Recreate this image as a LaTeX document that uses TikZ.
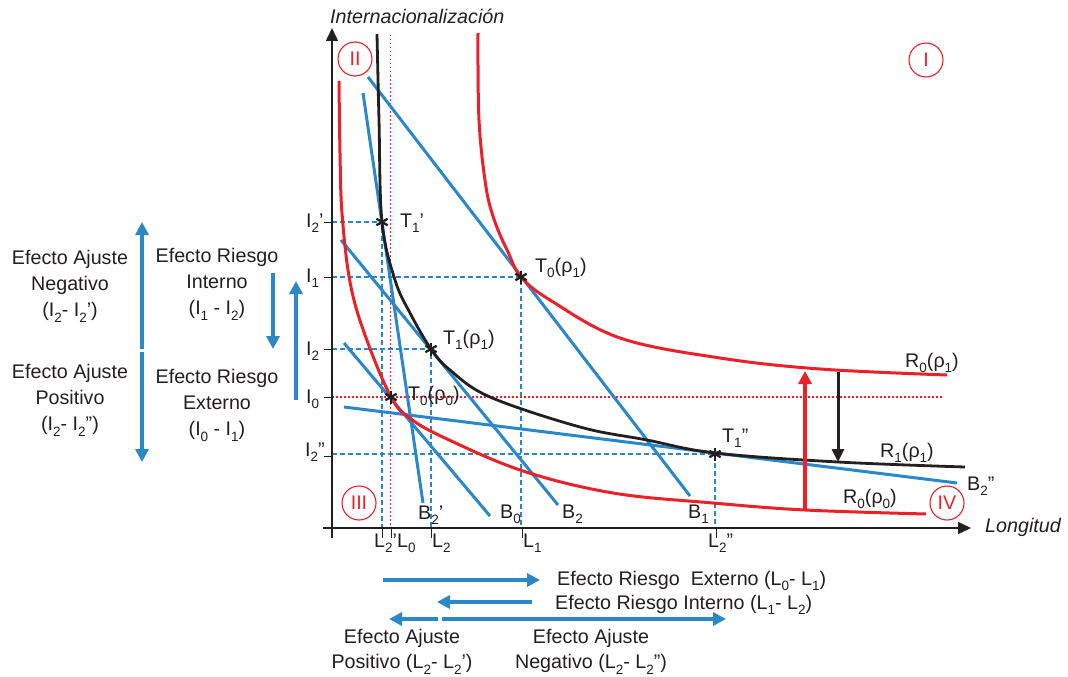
\documentclass[tikz,border=0pt]{standalone}
\usepackage{fontspec}
\setmainfont{Liberation Sans}
\usetikzlibrary{arrows.meta,calc}
\definecolor{cblue}{RGB}{42,135,200}
\definecolor{cred}{RGB}{236,32,40}
\definecolor{ctext}{RGB}{35,31,32}
\newcommand{\sbs}[1]{\raisebox{-0.3em}{\fontsize{13.5}{13.5}\selectfont #1}}
\begin{document}
\begin{tikzpicture}[x=1pt,y=-1pt,
  every node/.style={font=\fontsize{19.7}{26}\selectfont, inner sep=0pt, text=ctext},
  bline/.style={cblue, line width=3pt},
  rcurve/.style={cred, line width=3pt},
  kcurve/.style={ctext, line width=2.8pt},
  guide/.style={cblue, line width=1.1pt, dash pattern=on 5pt off 3pt},
  rdot/.style={cred, line width=1.5pt, dash pattern=on 1.5pt off 2.5pt},
  barrow/.style={cblue, line width=4pt, -{Triangle[length=13pt,width=13pt]}},
  axisline/.style={ctext, line width=1.5pt, -{Triangle[length=13pt,width=12pt]}},
  tickline/.style={ctext, line width=1pt},
  lbl/.style={anchor=base west},
  roman/.style={draw=cred, circle, minimum size=34pt, text=cred, line width=1.1pt},
  stardraw/.style={ctext, line width=2.3pt}]
\useasboundingbox (0,0) rectangle (1068,677);

% key coordinates
\coordinate (O) at (332,528);
\coordinate (ytop) at (332,28);
\coordinate (ybot) at (332,538);
\coordinate (xleft) at (323,528);
\coordinate (xright) at (971,528);
\coordinate (T1p) at (382,222);
\coordinate (T0r1) at (521,277);
\coordinate (T1r1) at (431,349);
\coordinate (T0r0) at (391,397);
\coordinate (T1pp) at (715,454);
\coordinate (L0top) at (390.5,35);
\coordinate (L0bot) at (390.5,528);
\coordinate (I0end) at (943,397);

% guides
\draw[guide] (T1p -| O) -- (T1p) -- (T1p |- O);
\draw[guide] (T0r1 -| O) -- (T0r1) -- (T0r1 |- O);
\draw[guide] (T1r1 -| O) -- (T1r1) -- (T1r1 |- O);
\draw[guide] (T1pp -| O) -- (T1pp) -- (T1pp |- O);
\draw[rdot] (L0top) -- (L0bot);
\draw[rdot] (T0r0 -| O) -- (I0end);

% axes
\draw[axisline] (ybot) -- (ytop);
\draw[axisline] (xleft) -- (xright);
\foreach \yy in {222,277,349,397,456} \draw[tickline] (324,\yy) -- (332,\yy);
\foreach \xx in {382,391,431,522,716} \draw[tickline] (\xx,528) -- (\xx,538);

% budget lines
\coordinate (B2pa) at (363,93);   \coordinate (B2pb) at (423,503);
\coordinate (B1a) at (368,77);    \coordinate (B1b) at (690,496);
\coordinate (B2a) at (341,240);   \coordinate (B2b) at (558,505);
\coordinate (B0a) at (344,343);   \coordinate (B0b) at (490,516);
\coordinate (B2ppa) at (344,407); \coordinate (B2ppb) at (957,483);
\draw[bline] (B2pa) -- (B2pb);
\draw[bline] (B1a) -- (B1b);
\draw[bline] (B2a) -- (B2b);
\draw[bline] (B0a) -- (B0b);
\draw[bline] (B2ppa) -- (B2ppb);

% curves
\draw[rcurve] plot[smooth, tension=0.6] coordinates {(478,33) (479,120) (486,187) (495,222) (508,252) (521,277) (550,300) (620,338) (720,358) (820,369) (947,375)};
\draw[kcurve] plot[smooth, tension=0.6] coordinates {(377,34) (379,120) (382,222) (395,280) (410,313) (431,349) (450,370) (490,397) (580,427) (647,440) (715,453) (838,462) (965,467)};
\draw[rcurve] plot[smooth, tension=0.6] coordinates {(339,81) (340,153) (342,213) (350,282) (365,335) (391,397) (411,419) (447,439) (523,471) (613,493) (713,503) (805,510) (926,514)};

% stars
\foreach \p in {T1p,T0r1,T1r1,T0r0,T1pp}
  \foreach \a in {90,30,150}
    \draw[stardraw] ($(\p)+(\a:6.5)$) -- ($(\p)+(\a+180:6.5)$);

% shift arrows
\coordinate (ra1) at (805,510); \coordinate (ra2) at (805,371);
\coordinate (ka1) at (838,372); \coordinate (ka2) at (838,462);
\draw[cred, line width=4pt, -{Triangle[length=13pt,width=13pt]}] (ra1) -- (ra2);
\draw[ctext, line width=3pt, -{Triangle[length=13pt,width=12pt]}] (ka1) -- (ka2);

% axis labels
\node[anchor=west, font=\fontsize{19.7}{26}\selectfont\itshape] (ylab) at (330,16) {Internacionalización};
\node[anchor=west, font=\fontsize{19.7}{26}\selectfont\itshape] (xlab) at (985,527) {Longitud};

% roman numerals
\node[roman] (rI) at (926,60) {I};
\node[roman] (rII) at (355,59) {II};
\node[roman] (rIII) at (359,503) {III};
\node[roman] (rIV) at (947,503) {IV};

% point labels
\node[lbl] (lT1p) at (400,227) {T\sbs{1}’};
\node[lbl] (lT0r1) at (535,272) {T\sbs{0}(ρ\sbs{1})};
\node[lbl] (lT1r1) at (443,344) {T\sbs{1}(ρ\sbs{1})};
\node[lbl] (lT0r0) at (408,400) {T\sbs{0}(ρ\sbs{0})};
\node[lbl] (lT1pp) at (722,442) {T\sbs{1}”};
\node[lbl] (lR0r1) at (905,367) {R\sbs{0}(ρ\sbs{1})};
\node[lbl] (lR1r1) at (880,457) {R\sbs{1}(ρ\sbs{1})};
\node[lbl] (lR0r0) at (843,503) {R\sbs{0}(ρ\sbs{0})};
\node[lbl] (lB2p) at (418,519) {B\sbs{2}’};
\node[lbl] (lB0) at (500,518) {B\sbs{0}};
\node[lbl] (lB2) at (562,518) {B\sbs{2}};
\node[lbl] (lB1) at (688,518) {B\sbs{1}};
\node[lbl] (lB2pp) at (967,490) {B\sbs{2}”};

% tick labels
\node[lbl] (tI2p) at (306,227) {I\sbs{2}’};
\node[lbl] (tI1) at (306,282) {I\sbs{1}};
\node[lbl] (tI2) at (306,355) {I\sbs{2}};
\node[lbl] (tI0) at (306,403) {I\sbs{0}};
\node[lbl] (tI2pp) at (305,456) {I\sbs{2}”};
\node[lbl] (tL2p) at (374,547) {L\sbs{2}’};
\node[lbl] (tL0) at (397,547) {L\sbs{0}};
\node[lbl] (tL2) at (432,547) {L\sbs{2}};
\node[lbl] (tL1) at (523,547) {L\sbs{1}};
\node[lbl] (tL2pp) at (708,547) {L\sbs{2}”};

% left effect texts and arrows
\node[align=center] (eAN) at (70,286) {Efecto Ajuste\\Negativo\\(I\sbs{2}- I\sbs{2}’)};
\node[align=center] (eAP) at (70,400) {Efecto Ajuste\\Positivo\\(I\sbs{2}- I\sbs{2}”)};
\node[align=center] (eRI) at (217,284) {Efecto Riesgo\\Interno\\(I\sbs{1} - I\sbs{2})};
\node[align=center] (eRE) at (217,405) {Efecto Riesgo\\Externo\\(I\sbs{0} - I\sbs{1})};
\coordinate (a1a) at (142,349); \coordinate (a1b) at (142,222);
\coordinate (a2a) at (142,352); \coordinate (a2b) at (142,462);
\coordinate (a3a) at (273,273); \coordinate (a3b) at (273,349);
\coordinate (a4a) at (296,400); \coordinate (a4b) at (296,281);
\draw[barrow] (a1a) -- (a1b);
\draw[barrow] (a2a) -- (a2b);
\draw[barrow] (a3a) -- (a3b);
\draw[barrow] (a4a) -- (a4b);

% bottom effect texts and arrows
\node[lbl] (eREb) at (557,585) {Efecto Riesgo~ Externo (L\sbs{0}- L\sbs{1})};
\node[lbl] (eRIb) at (555,609) {Efecto Riesgo Interno (L\sbs{1}- L\sbs{2})};
\node[align=center, font=\fontsize{19.7}{25}\selectfont] (eAPb) at (402,652) {Efecto Ajuste\\Positivo (L\sbs{2}- L\sbs{2}’)};
\node[align=center, font=\fontsize{19.7}{25}\selectfont] (eANb) at (591,652) {Efecto Ajuste\\Negativo (L\sbs{2}- L\sbs{2}”)};
\coordinate (b1a) at (383,580); \coordinate (b1b) at (540,580);
\coordinate (b2a) at (532,602); \coordinate (b2b) at (437,602);
\coordinate (b3a) at (438,619); \coordinate (b3b) at (389,619);
\coordinate (b4a) at (442,619); \coordinate (b4b) at (726,619);
\draw[barrow] (b1a) -- (b1b);
\draw[barrow] (b2a) -- (b2b);
\draw[barrow] (b3a) -- (b3b);
\draw[barrow] (b4a) -- (b4b);
\end{tikzpicture}
\end{document}
